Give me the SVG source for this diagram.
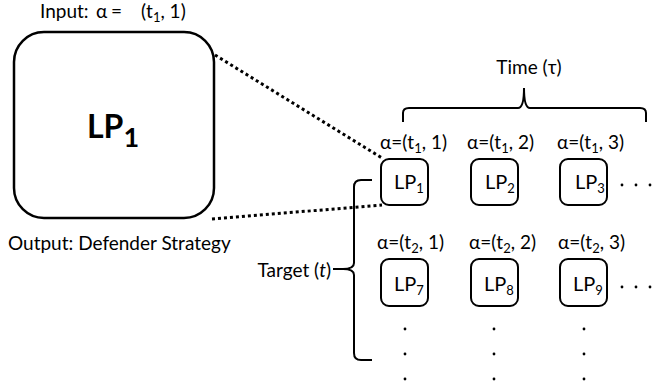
<svg xmlns="http://www.w3.org/2000/svg" width="654" height="385" viewBox="0 0 654 385">
<style>
text{font-family:Lato,"Open Sans","DejaVu Sans",sans-serif;fill:#000}
.t{font-size:19px}
.lbl{font-size:19px}
.lp{font-size:20px}
.sub{font-size:13px}
.box{fill:#fff;stroke:#000;stroke-width:2}
.big{fill:#fff;stroke:#000;stroke-width:2.5}
.dot{fill:none;stroke:#000;stroke-width:3;stroke-dasharray:3 3}
.br{fill:none;stroke:#000;stroke-width:2}
</style>
<g id="bigLP">
<rect class="big" x="14" y="32" width="200" height="186" rx="30"/>
<text x="87" y="138" font-size="32" font-weight="bold">LP<tspan dy="9" font-size="27">1</tspan></text>
</g>
<text class="t" x="40" y="18">Input: <tspan x="96">α</tspan> <tspan x="111">=</tspan> <tspan x="141">(t</tspan><tspan class="sub" dy="4">1</tspan><tspan dy="-4">, 1)</tspan></text>
<text class="t" x="8" y="250">Output: Defender Strategy</text>
<g id="connectors">
<path class="dot" d="M215,55 L382,158"/>
<path class="dot" d="M212,219 L382,205"/>
<path class="br" d="M403,122 L403,113 Q403,108 409,108 L518,108 Q524,108 524,88 Q524,108 530,108 L640,108 Q646,108 646,113 L646,122"/>
<path class="br" d="M372,180 L361,180 Q354,180 354,187 L354,263 Q354,269 343,269 Q354,269 354,275 L354,353 Q354,360 361,360 L372,360"/>
<path class="br" d="M333,269 L343,269"/>
</g>
<text class="t" x="529" y="74" text-anchor="middle">Time (τ)</text>
<text class="t" x="331" y="277" text-anchor="end">Target (<tspan font-style="italic">t</tspan>)</text>
<g id="LP1"><text class="lbl" x="380" y="149">α=(t<tspan class="sub" dy="4">1</tspan><tspan dy="-4">, 1)</tspan></text><rect class="box" x="381" y="159" width="47" height="46" rx="8"/><text class="lp" x="394" y="189">LP<tspan class="sub" dy="4">1</tspan></text></g>
<g id="LP2"><text class="lbl" x="467" y="149">α=(t<tspan class="sub" dy="4">1</tspan><tspan dy="-4">, 2)</tspan></text><rect class="box" x="471" y="159" width="47" height="46" rx="8"/><text class="lp" x="485" y="189">LP<tspan class="sub" dy="4">2</tspan></text></g>
<g id="LP3"><text class="lbl" x="557" y="149">α=(t<tspan class="sub" dy="4">1</tspan><tspan dy="-4">, 3)</tspan></text><rect class="box" x="560" y="159" width="47" height="46" rx="8"/><text class="lp" x="575" y="189">LP<tspan class="sub" dy="4">3</tspan></text></g>
<g id="LP7"><text class="lbl" x="377" y="249">α=(t<tspan class="sub" dy="4">2</tspan><tspan dy="-4">, 1)</tspan></text><rect class="box" x="381" y="259" width="47" height="47" rx="8"/><text class="lp" x="394" y="291">LP<tspan class="sub" dy="4">7</tspan></text></g>
<g id="LP8"><text class="lbl" x="469" y="249">α=(t<tspan class="sub" dy="4">2</tspan><tspan dy="-4">, 2)</tspan></text><rect class="box" x="471" y="259" width="47" height="47" rx="8"/><text class="lp" x="484" y="291">LP<tspan class="sub" dy="4">8</tspan></text></g>
<g id="LP9"><text class="lbl" x="558" y="249">α=(t<tspan class="sub" dy="4">2</tspan><tspan dy="-4">, 3)</tspan></text><rect class="box" x="560" y="259" width="47" height="47" rx="8"/><text class="lp" x="573" y="291">LP<tspan class="sub" dy="4">9</tspan></text></g>
<g id="ellipses" fill="#000">
<circle cx="622" cy="185" r="1.4"/><circle cx="636" cy="185" r="1.4"/><circle cx="650" cy="185" r="1.4"/>
<circle cx="622" cy="287" r="1.4"/><circle cx="636" cy="287" r="1.4"/><circle cx="650" cy="287" r="1.4"/>
<circle cx="405" cy="329" r="1.4"/><circle cx="405" cy="354" r="1.4"/><circle cx="405" cy="379" r="1.4"/>
<circle cx="494" cy="329" r="1.4"/><circle cx="494" cy="354" r="1.4"/><circle cx="494" cy="379" r="1.4"/>
<circle cx="584" cy="329" r="1.4"/><circle cx="584" cy="354" r="1.4"/><circle cx="584" cy="379" r="1.4"/>
</g>
</svg>
